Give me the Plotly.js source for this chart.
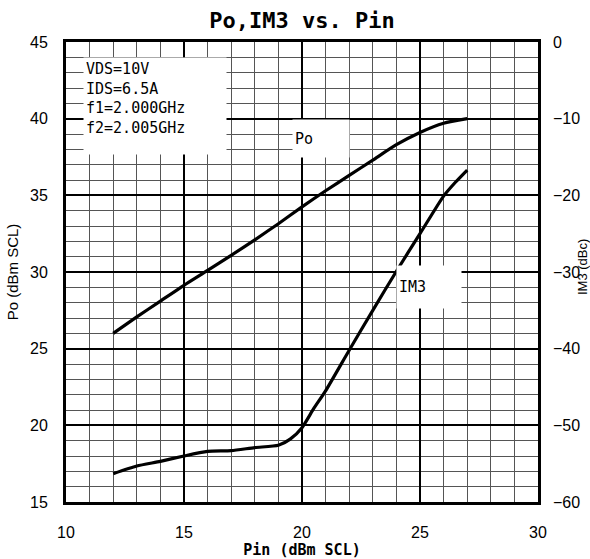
<!DOCTYPE html>
<html>
<head>
<meta charset="utf-8">
<script src="https://cdn.plot.ly/plotly-3.0.1.min.js"></script>
<style>body{margin:0;padding:0;background:#fff;}#chart{width:590px;height:559px;}</style>
</head>
<body>
<div id="chart"></div>
<script>
// Data
var pin = [12, 13, 14, 15, 16, 17, 18, 19, 20, 21, 22, 23, 24, 25, 26, 27];
var po  = [26.0, 27.07, 28.1, 29.13, 30.1, 31.09, 32.1, 33.15, 34.25, 35.3, 36.3, 37.3, 38.3, 39.1, 39.7, 40.0];

var pinIM3 = [12, 13, 14, 15, 16, 17, 18, 19, 19.5, 20, 20.5, 21, 22, 23, 24, 25, 26, 26.5, 27];
var im3    = [-56.3, -55.3, -54.7, -54.0, -53.4, -53.3, -52.9, -52.6, -51.8, -50.3, -47.8, -45.5, -40.2, -35.0, -29.9, -25.0, -20.1, -18.3, -16.7];

var conditionLines = ["VDS=10V", "IDS=6.5A", "f1=2.000GHz", "f2=2.005GHz"];
var titleText = "Po,IM3 vs. Pin";
var xTitle = "Pin (dBm SCL)";
var yTitle = "Po (dBm SCL)";
var y2Title = "IM3 (dBc)";

var monoFont = "DejaVu Sans Mono";
var tickFont = {family: "Liberation Sans, Arial, sans-serif", size: 16, color: "#000"};

var traces = [
  {x: pin, y: po, type: "scatter", mode: "lines", yaxis: "y",
   line: {color: "#000", width: 3.2, shape: "spline", smoothing: 0.6}, showlegend: false, hoverinfo: "skip"},
  {x: pinIM3, y: im3, type: "scatter", mode: "lines", yaxis: "y2",
   line: {color: "#000", width: 3.2, shape: "spline", smoothing: 0.6}, showlegend: false, hoverinfo: "skip"}
];

var layout = {
  width: 590, height: 559,
  margin: {l: 66, r: 52, t: 42, b: 57},
  paper_bgcolor: "#fff", plot_bgcolor: "#fff",
  title: {text: "<b>" + titleText + "</b>", font: {family: monoFont, size: 22, color: "#000"},
          x: 0.512, xanchor: "center", y: 1 - 20/559, yanchor: "middle", yref: "container"},
  xaxis: {range: [10, 30], dtick: 5, tick0: 10, showgrid: true, gridcolor: "#000", gridwidth: 2,
          minor: {dtick: 1, showgrid: true, gridcolor: "#555", gridwidth: 1},
          showline: true, linecolor: "#000", linewidth: 3, mirror: true, zeroline: false,
          ticks: "", ticklabelstandoff: 14, tickfont: tickFont,
          title: {text: xTitle, font: {family: monoFont, size: 15, color: "#000", weight: "bold"}, standoff: 4}},
  yaxis: {range: [15, 45], dtick: 5, tick0: 15, showgrid: true, gridcolor: "#000", gridwidth: 2,
          minor: {dtick: 1, showgrid: true, gridcolor: "#555", gridwidth: 1},
          showline: true, linecolor: "#000", linewidth: 3, mirror: true, zeroline: false,
          ticks: "", ticklabelstandoff: 12, tickfont: tickFont,
          title: {text: yTitle, font: {family: "Liberation Sans, Arial, sans-serif", size: 15, color: "#000"}, standoff: 8}},
  yaxis2: {range: [-60, 0], dtick: 10, overlaying: "y", side: "right", showgrid: false, zeroline: false,
           showline: false, ticks: "", ticklabelstandoff: 14, tickfont: tickFont},
  annotations: [
    {xref: "x", yref: "y", x: 13.75, y: 40.8, text: conditionLines.join("<br>"), showarrow: false,
     align: "left", valign: "top", width: 138, height: 92, bgcolor: "#fff", borderpad: 2,
     font: {family: monoFont, size: 15, color: "#000"}},
    {xref: "x", yref: "y", x: 20.8, y: 38.7, text: "Po", showarrow: false,
     align: "left", valign: "middle", width: 52, height: 33, bgcolor: "#fff", borderpad: 2,
     font: {family: monoFont, size: 15, color: "#000"}},
    {xref: "x", yref: "y", x: 25.38, y: 29.0, text: "IM3", showarrow: false,
     align: "left", valign: "middle", width: 60, height: 38, bgcolor: "#fff", borderpad: 2,
     font: {family: monoFont, size: 15, color: "#000"}},
    {xref: "paper", yref: "paper", x: 1, xshift: 44, y: 0.5, yshift: 5, text: y2Title, showarrow: false,
     textangle: -90, xanchor: "center", yanchor: "middle",
     font: {family: "Liberation Sans, Arial, sans-serif", size: 13, color: "#000"}}
  ]
};

Plotly.newPlot("chart", traces, layout, {staticPlot: true, displayModeBar: false});
</script>
</body>
</html>
